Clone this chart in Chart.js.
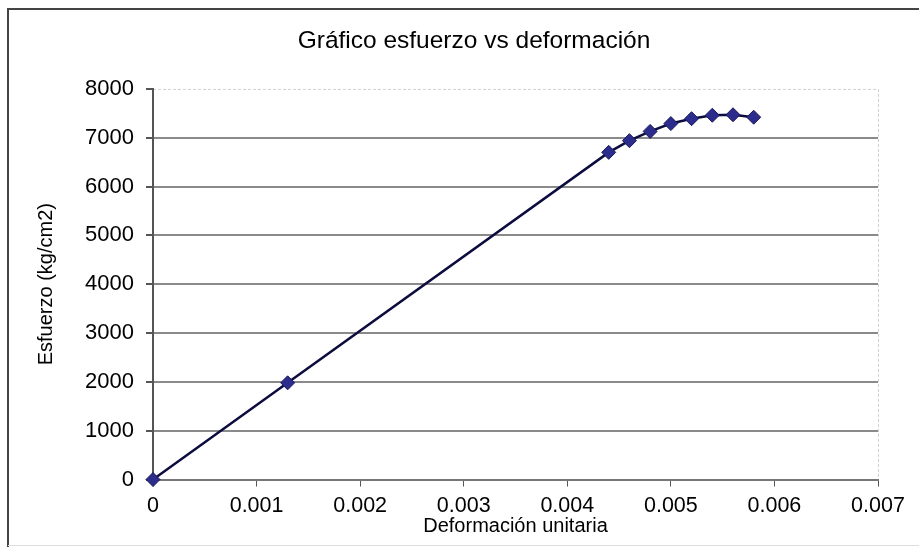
<!DOCTYPE html>
<html>
<head>
<meta charset="utf-8">
<script src="https://cdn.jsdelivr.net/npm/chart.js@4.4.1/dist/chart.umd.min.js"></script>
<style>
  html, body { margin: 0; padding: 0; background: #fff; }
  #wrap { width: 919px; height: 547px; position: relative; }
</style>
</head>
<body>
<div id="wrap"><canvas id="esfuerzo-chart" width="919" height="547"></canvas></div>
<script>
// valores
var deformacion = [0, 0.0013, 0.0044, 0.0046, 0.0048, 0.005, 0.0052, 0.0054, 0.0056, 0.0058];
var esfuerzo = [0, 1980, 6700, 6940, 7130, 7290, 7390, 7460, 7470, 7420];
var xTicks = [0, 0.001, 0.002, 0.003, 0.004, 0.005, 0.006, 0.007];
var yTicks = [0, 1000, 2000, 3000, 4000, 5000, 6000, 7000, 8000];

var FONT = "'Liberation Sans', Arial, sans-serif";

// marco del grafico y borde del area de trazado (como en Excel)
var framePlugin = {
  id: "frame",
  beforeDraw: function(chart) {
    var ctx = chart.ctx;
    ctx.save();
    ctx.fillStyle = "#fff";
    ctx.fillRect(0, 0, chart.width, chart.height);
    ctx.strokeStyle = "#444";
    ctx.lineWidth = 2;
    ctx.beginPath();
    ctx.moveTo(8, chart.height);
    ctx.lineTo(8, 9);
    ctx.lineTo(chart.width, 9);
    ctx.stroke();
    ctx.strokeStyle = "#ddd";
    ctx.lineWidth = 1;
    ctx.beginPath();
    ctx.moveTo(8, 545.5);
    ctx.lineTo(chart.width, 545.5);
    ctx.stroke();
    var a = chart.chartArea;
    ctx.strokeStyle = "#d0d0d0";
    ctx.setLineDash([3, 2]);
    ctx.beginPath();
    ctx.moveTo(a.left, a.top + 0.5);
    ctx.lineTo(a.right + 0.5, a.top + 0.5);
    ctx.lineTo(a.right + 0.5, a.bottom);
    ctx.stroke();
    ctx.restore();
  }
};

var ctx = document.getElementById("esfuerzo-chart").getContext("2d");
var chart = new Chart(ctx, {
  type: "scatter",
  data: {
    datasets: [{
      label: "Esfuerzo",
      data: deformacion.map(function(x, i) { return { x: x, y: esfuerzo[i] }; }),
      showLine: true,
      clip: false,
      borderColor: "#0c0c3e",
      borderWidth: 2.5,
      pointStyle: "rectRot",
      pointRadius: 7,
      pointHoverRadius: 7,
      pointBackgroundColor: "#2c2c8c",
      pointBorderColor: "#1a1a5c",
      pointBorderWidth: 1
    }]
  },
  options: {
    responsive: false,
    animation: false,
    layout: { padding: { left: 70, right: 41, top: 0, bottom: 0 } },
    plugins: {
      legend: { display: false },
      tooltip: { enabled: false },
      title: {
        display: true,
        text: "Gráfico esfuerzo vs deformación",
        color: "#000",
        font: { family: FONT, size: 24.5, weight: "normal" },
        padding: { top: 27, bottom: 32.5 }
      }
    },
    scales: {
      x: {
        type: "linear",
        min: 0,
        max: 0.007,
        afterBuildTicks: function(scale) {
          scale.ticks = xTicks.map(function(v) { return { value: v }; });
        },
        afterFit: function(scale) { scale.height = 67.5; },
        border: { display: true, color: "#777", width: 2 },
        grid: { drawOnChartArea: false, drawTicks: true, tickLength: 7, color: "#555" },
        ticks: {
          color: "#000",
          font: { family: FONT, size: 21.5 },
          padding: 7,
          maxRotation: 0,
          autoSkip: false,
          callback: function(v) { return v === 0 ? "0" : v.toFixed(3); }
        },
        title: {
          display: true,
          text: "Deformación unitaria",
          color: "#000",
          font: { family: FONT, size: 20 },
          padding: { top: 0, bottom: 9 }
        }
      },
      y: {
        type: "linear",
        min: 0,
        max: 8000,
        afterBuildTicks: function(scale) {
          scale.ticks = yTicks.map(function(v) { return { value: v }; });
        },
        afterFit: function(scale) { scale.width = 83; },
        border: { display: true, color: "#555", width: 2 },
        grid: {
          drawTicks: true,
          tickLength: 7,
          color: function(c) {
            if (c.tick && (c.tick.value === 0 || c.tick.value === 8000)) return "rgba(0,0,0,0)";
            return "#8a8a8a";
          },
          tickColor: "#555",
          lineWidth: 2
        },
        ticks: {
          color: "#000",
          font: { family: FONT, size: 22 },
          padding: 12,
          autoSkip: false,
          callback: function(v) { return String(v); }
        },
        title: {
          display: true,
          text: "Esfuerzo (kg/cm2)",
          color: "#000",
          font: { family: FONT, size: 20 },
          padding: { top: -36, bottom: 0 }
        }
      }
    }
  },
  plugins: [framePlugin]
});
</script>
</body>
</html>
